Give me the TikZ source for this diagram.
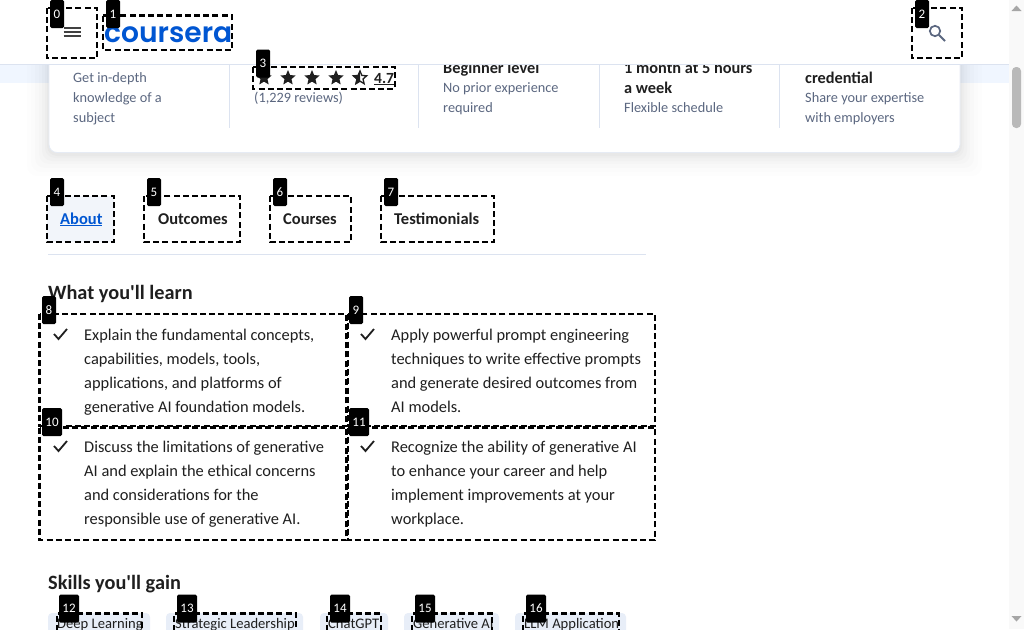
\documentclass[tikz,border=0pt]{standalone}
\usepackage{fontspec}
\setmainfont[Ligatures=TeXOff]{Carlito}
\newfontfamily\logofont{Poppins}[UprightFont=* SemiBold]
\usetikzlibrary{shapes.geometric}
\definecolor{ink}{HTML}{1F1F1F}
\definecolor{muted}{HTML}{5B6780}
\definecolor{rulec}{HTML}{DCE3F0}
\definecolor{band}{HTML}{F0F6FF}
\definecolor{chipc}{HTML}{E8EEF8}
\definecolor{blue}{HTML}{0056D2}
\definecolor{tabbg}{HTML}{F2F5FA}
\tikzset{
 x=1pt,y=-1pt,
 mark box/.style={draw=black,line width=2.1pt,dash pattern=on 6pt off 3.2pt,fill=none},
 tag/.style={fill=black,text=white,rounded corners=1.5pt,minimum width=14pt,minimum height=28pt,inner sep=0pt,font=\fontsize{13}{13}\selectfont},
 body/.style={anchor=base west,inner sep=0pt,text=ink,font=\fontsize{16.4}{16.4}\selectfont},
 small/.style={anchor=base west,inner sep=0pt,text=muted,font=\fontsize{14.3}{14.3}\selectfont},
 strong/.style={anchor=base west,inner sep=0pt,text=ink,font=\fontsize{16.3}{16.3}\selectfont\bfseries},
 tabt/.style={anchor=base west,inner sep=0pt,text=ink,font=\fontsize{16.5}{16.5}\selectfont\bfseries},
 head/.style={anchor=base west,inner sep=0pt,text=ink,font=\fontsize{20.3}{20.3}\selectfont\bfseries},
 chip/.style={fill=chipc,rounded corners=4pt,draw=none},
 chiptext/.style={anchor=base west,inner sep=0pt,text=ink,font=\fontsize{14.6}{14.6}\selectfont},
 starf/.style={star,star points=5,star point ratio=2.2,minimum size=16pt,inner sep=0pt,fill=ink,draw=none},
}
\newcommand{\ticks}[2]{\draw[ink,line width=1.8pt] (#1,#2) -- +(4.5,5) -- +(13,-5);}
\begin{document}
\begin{tikzpicture}
\useasboundingbox (0,0) rectangle (1024,629);
\fill[white] (0,0) rectangle (1024,629);
% scrollbar
\fill[gray!5] (1009,0) rectangle (1024,629);
\fill[band] (0,65) rectangle (1009,83);
% card shadow
\foreach \g/\o in {22/.008,18/.009,14/.01,10/.012,7/.014,4/.016,2/.018}
 \fill[black,opacity=\o,rounded corners=10pt] (49-\g,40) rectangle (960+\g,152+\g+2);
\fill[white,draw=rulec!70,line width=.8pt,rounded corners=8pt] (49,40) rectangle (960,152.5);
% header
\fill[white] (0,0) rectangle (1009,64);
\draw[rulec,line width=1pt] (0,64.5) -- (1009,64.5);
\fill[gray!55,rounded corners=4pt] (1012,67) rectangle (1021,128);
\fill[gray!70] (1011.5,11) -- (1016.5,5.5) -- (1021.5,11) -- cycle;
\fill[gray!70] (1011.5,616) -- (1016.5,621.5) -- (1021.5,616) -- cycle;
% hamburger
\foreach \yy in {28,32,36}\draw[ink!85,line width=1.8pt] (63.5,\yy) -- (80.5,\yy);
% logo
\node[anchor=base west,inner sep=0pt,text=blue,font=\fontsize{33}{33}\logofont] (logo) at (104,42) {\resizebox{128pt}{!}{coursera}};
% search
\draw[muted,line width=1.7pt] (935,31) circle (5.2);
\draw[muted,line width=2pt] (939,35) -- (945,41);
% card separators
\foreach \xx in {229.5,418.5,599.5,779.5}\draw[rulec,line width=1pt] (\xx,65) -- (\xx,128);
% card text
\node[small] (a1) at (73,82) {Get in-depth};
\node[small] (a2) at (73,102) {knowledge of a};
\node[small] (a3) at (73,122) {subject};
\node[small] (b1) at (254,102) {(1,229 reviews)};
\foreach \xx/\nm in {264/s1,288/s2,312/s3,336/s4}\node[starf] (\nm) at (\xx,78) {};
\node[starf,fill=white,draw=ink,line width=1.3pt,minimum size=14pt] (s5) at (360,78) {};
\begin{scope}\clip (352,68) rectangle (360,90);\node[starf] (s5b) at (360,78) {};\end{scope}
\node[anchor=base west,inner sep=0pt,text=ink,font=\fontsize{15.5}{15.5}\selectfont\bfseries] (rate) at (374,83) {\underline{4.7}};
\begin{scope}
\clip (0,65) rectangle (1009,200);
\node[strong] (c0) at (443,73) {Beginner level};
\node[strong] (d0) at (624,73) {1 month at 5 hours};
\end{scope}
\node[small] (c1) at (443,92) {No prior experience};
\node[small] (c2) at (443,112) {required};
\node[strong] (d1) at (624,93) {a week};
\node[small] (d2) at (624,112) {Flexible schedule};
\node[strong] (e0) at (805,83) {credential};
\node[small] (e1) at (805,102) {Share your expertise};
\node[small] (e2) at (805,122) {with employers};
% tabs
\fill[tabbg] (47,196) rectangle (114,242);
\draw[rulec,line width=1.8pt] (48,254.5) -- (646,254.5);
\node[tabt,text=blue] (tab0) at (60,224) {\underline{About}};
\node[tabt] (tab1) at (158,224) {Outcomes};
\node[tabt] (tab2) at (283,224) {Courses};
\node[tabt] (tab3) at (394,224) {Testimonials};
% heading
\node[head] (h1) at (48,299) {What you'll learn};
\node[head] (h2) at (48,589) {Skills you'll gain};
% learn items
\foreach \yy in {334,446}{\ticks{54}{\yy}\ticks{361}{\yy}}
\node[body] (l1) at (84,340) {Explain the fundamental concepts,};
\node[body] (l2) at (84,364) {capabilities, models, tools,};
\node[body] (l3) at (84,388) {applications, and platforms of};
\node[body] (l4) at (84,412) {generative AI foundation models.};
\node[body] (m1) at (391,340) {Apply powerful prompt engineering};
\node[body] (m2) at (391,364) {techniques to write effective prompts};
\node[body] (m3) at (391,388) {and generate desired outcomes from};
\node[body] (m4) at (391,412) {AI models.};
\node[body] (n1) at (84,452) {Discuss the limitations of generative};
\node[body] (n2) at (84,476) {AI and explain the ethical concerns};
\node[body] (n3) at (84,500) {and considerations for the};
\node[body] (n4) at (84,524) {responsible use of generative AI.};
\node[body] (o1) at (391,452) {Recognize the ability of generative AI};
\node[body] (o2) at (391,476) {to enhance your career and help};
\node[body] (o3) at (391,500) {implement improvements at your};
\node[body] (o4) at (391,524) {workplace.};
% chips
\foreach \a/\b in {48/150,166/303,320/388,404/499,515/626}\fill[chip] (\a,613) rectangle (\b,640);
\begin{scope}\clip (0,600) rectangle (1009,629);
\node[chiptext] (k1) at (57,628) {Deep Learning};
\node[chiptext] (k2) at (175,628) {Strategic Leadership};
\node[chiptext] (k3) at (328,628) {ChatGPT};
\node[chiptext] (k4) at (413,628) {Generative AI};
\node[chiptext] (k5) at (524,628) {LLM Application};
\end{scope}
% mark boxes
\draw[mark box] (47,8) rectangle (97,58);
\draw[mark box] (103,15.5) rectangle (232,50);
\draw[mark box] (912,8) rectangle (962,58);
\draw[mark box] (253,67) rectangle (395,89);
\draw[mark box] (47,196) rectangle (114,242);
\draw[mark box] (144,196) rectangle (240,242);
\draw[mark box] (270,196) rectangle (351,242);
\draw[mark box] (381,196) rectangle (494,242);
\draw[mark box] (39.5,314) rectangle (346.5,426);
\draw[mark box] (347.8,314) rectangle (655,426);
\draw[mark box] (39.5,427.5) rectangle (346.5,540);
\draw[mark box] (347.8,427.5) rectangle (655,540);
\foreach \a/\b in {57/142,174/296,327/381,412/492,523/619}\draw[mark box] (\a,640) -- (\a,613.5) -- (\b,613.5) -- (\b,640);
% tags
\node[tag] (t0) at (57,14) {0};
\node[tag] (t1) at (113,14) {1};
\node[tag] (t2) at (922,14) {2};
\node[tag] (t3) at (263,63.5) {3};
\node[tag] (t4) at (57,192) {4};
\node[tag] (t5) at (154,192) {5};
\node[tag] (t6) at (280,192) {6};
\node[tag] (t7) at (391,192) {7};
\node[tag] (t8) at (49,310) {8};
\node[tag] (t9) at (356,310) {9};
\node[tag,minimum width=20pt] (t10) at (52,422) {10};
\node[tag,minimum width=20pt] (t11) at (359,422) {11};
\node[tag,minimum width=20pt] (t12) at (69,608.5) {12};
\node[tag,minimum width=20pt] (t13) at (187,608.5) {13};
\node[tag,minimum width=20pt] (t14) at (340,608.5) {14};
\node[tag,minimum width=20pt] (t15) at (425,608.5) {15};
\node[tag,minimum width=20pt] (t16) at (536,608.5) {16};
\end{tikzpicture}
\end{document}
